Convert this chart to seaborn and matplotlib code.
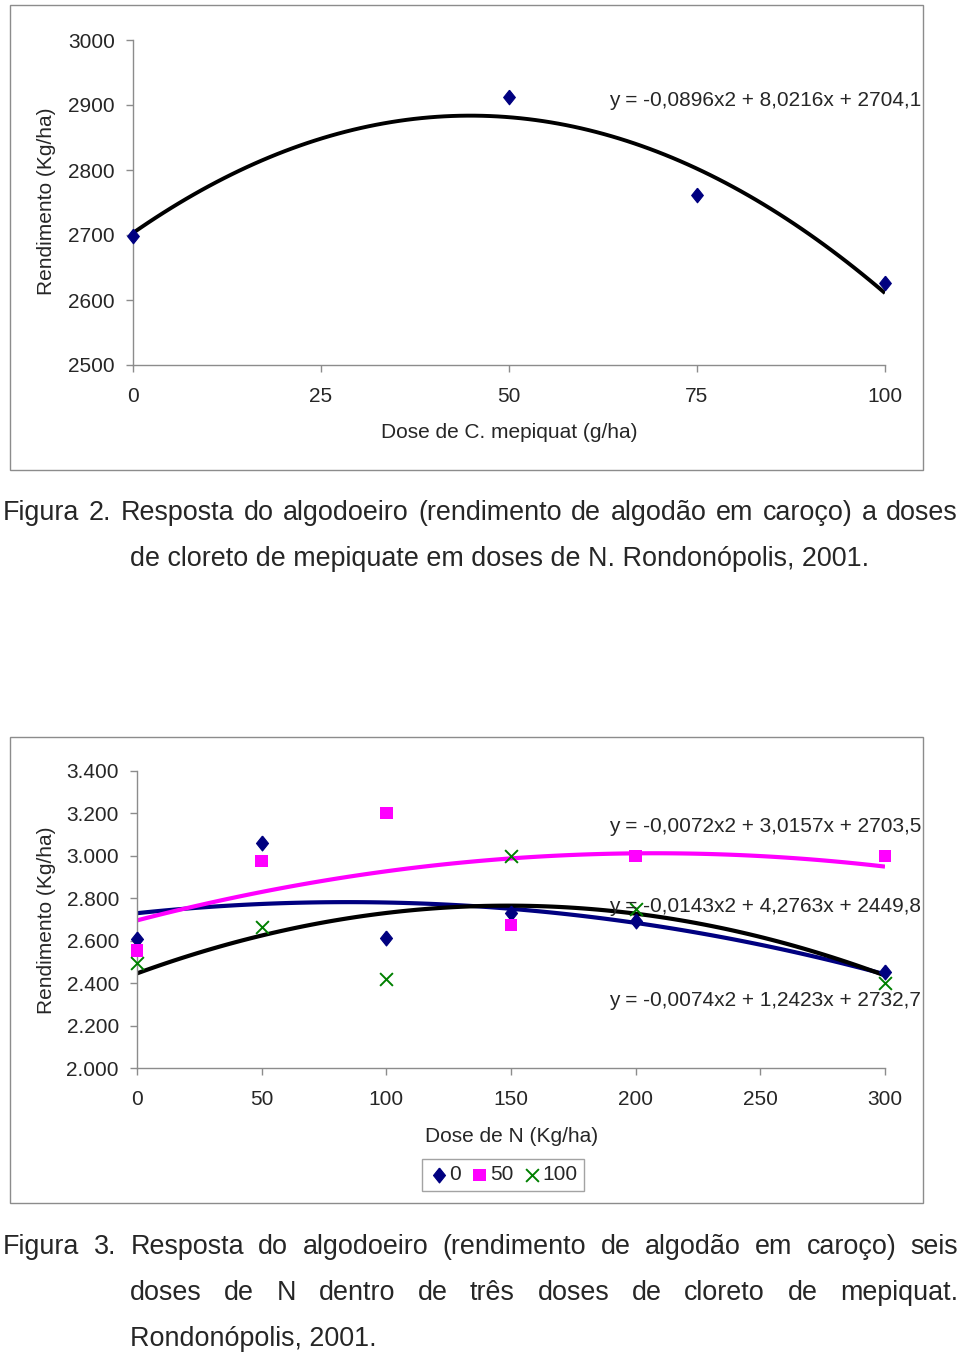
import matplotlib
matplotlib.use("Agg")
import matplotlib.pyplot as plt
import seaborn as sns
import numpy as np
from matplotlib.patches import Rectangle
from matplotlib.ticker import FuncFormatter

# Figura 2 - dose de cloreto de mepiquat
dose_cm = [0, 50, 75, 100]
rend_cm = [2698, 2912, 2761, 2626]
eq_cm = "y = -0,0896x2 + 8,0216x + 2704,1"

# Figura 3 - dose de N dentro de doses de C. mepiquat
dose_n = [0, 50, 100, 150, 200, 300]
rend_0 = [2608, 3061, 2613, 2731, 2693, 2453]
rend_50 = [2552, 2976, 3202, 2674, 2999, 2999]
rend_100 = [2495, 2665, 2420, 2999, 2750, 2401]
series_labels = ["0", "50", "100"]
eqs_n = ["y = -0,0072x2 + 3,0157x + 2703,5",
         "y = -0,0143x2 + 4,2763x + 2449,8",
         "y = -0,0074x2 + 1,2423x + 2732,7"]

W, H = 960, 1354
sns.set_style("white")
plt.rcParams['font.family'] = ['Liberation Sans', 'DejaVu Sans']

NAVY = '#000080'
MAG = '#FF00FF'
GREEN = '#008000'
GRAY = '#8c8c8c'
FS = 15  # texto dos graficos
diamond = [(0, 1), (0.8, 0), (0, -1), (-0.8, 0), (0, 1)]

fig = plt.figure(figsize=(W / 100, H / 100), dpi=100)


def fx(px):
    return px / W


def fy(py):
    return 1 - py / H


def style_axes(ax):
    sns.despine(ax=ax)
    for s in ['left', 'bottom']:
        ax.spines[s].set_color(GRAY)
        ax.spines[s].set_linewidth(1)
    ax.tick_params(axis='both', direction='out', length=5, width=1, color=GRAY,
                   labelsize=FS, left=True, bottom=True)
    ax.tick_params(axis='x', pad=11)
    ax.tick_params(axis='y', pad=8)


# caixas dos graficos
for y0, y1 in [(5, 470), (737, 1203)]:
    fig.add_artist(Rectangle((fx(10), fy(y1)), fx(923) - fx(10), (y1 - y0) / H,
                             transform=fig.transFigure, fill=False,
                             edgecolor=GRAY, lw=1))

# ---- Figura 2 ----
ax1 = fig.add_axes([fx(133), fy(365), fx(885) - fx(133), 325 / H])
sns.regplot(x=dose_cm, y=rend_cm, order=2, ci=None, scatter=False, ax=ax1,
            line_kws={'color': 'black', 'lw': 2.8, 'solid_capstyle': 'butt'})
sns.scatterplot(x=dose_cm, y=rend_cm, marker=diamond, s=110, color=NAVY,
                edgecolor=NAVY, ax=ax1, clip_on=False, zorder=5)
ax1.set_xlim(0, 100)
ax1.set_ylim(2500, 3000)
ax1.set_xticks([0, 25, 50, 75, 100])
ax1.set_yticks(range(2500, 3001, 100))
style_axes(ax1)
fig.text(fx(921), fy(100), eq_cm, ha='right', va='center', fontsize=FS)
fig.text(fx(47), fy(201), "Rendimento (Kg/ha)", rotation=90, ha='center',
         va='center', fontsize=FS)
fig.text(fx(509), fy(432), "Dose de C. mepiquat (g/ha)", ha='center',
         va='center', fontsize=FS)

# ---- Figura 3 ----
ax2 = fig.add_axes([fx(137), fy(1068), fx(885) - fx(137), 297 / H])
for vals, col in [(rend_0, NAVY), (rend_50, MAG), (rend_100, 'black')]:
    sns.regplot(x=dose_n, y=vals, order=2, ci=None, scatter=False, ax=ax2,
                line_kws={'color': col, 'lw': 3, 'solid_capstyle': 'butt'})
sns.scatterplot(x=dose_n, y=rend_0, marker=diamond, s=115, color=NAVY,
                edgecolor=NAVY, ax=ax2, clip_on=False, zorder=5,
                label=series_labels[0])
sns.scatterplot(x=dose_n, y=rend_50, marker='s', s=85, color=MAG,
                edgecolor='none', ax=ax2, clip_on=False, zorder=5,
                label=series_labels[1])
sns.scatterplot(x=dose_n, y=rend_100, marker='x', s=85, color=GREEN,
                linewidth=1.4, ax=ax2, clip_on=False, zorder=5,
                label=series_labels[2])
ax2.set_xlim(0, 300)
ax2.set_ylim(2000, 3400)
ax2.set_xticks(range(0, 301, 50))
ax2.set_yticks(range(2000, 3401, 200))
ax2.yaxis.set_major_formatter(FuncFormatter(lambda v, p: f"{v:,.0f}".replace(',', '.')))
style_axes(ax2)
for eq, py in zip(eqs_n, [826, 907, 1001]):
    fig.text(fx(921), fy(py), eq, ha='right', va='center', fontsize=FS)
fig.text(fx(47), fy(920), "Rendimento (Kg/ha)", rotation=90, ha='center',
         va='center', fontsize=FS)
fig.text(fx(512), fy(1136), "Dose de N (Kg/ha)", ha='center', va='center',
         fontsize=FS)
leg = ax2.legend(loc='center', bbox_to_anchor=(fx(503), fy(1175)),
                 bbox_transform=fig.transFigure, ncol=3, fontsize=FS,
                 frameon=True, fancybox=False, edgecolor=GRAY,
                 handletextpad=0.0, columnspacing=0.4, borderpad=0.3,
                 handlelength=1.0, borderaxespad=0)
leg.get_frame().set_linewidth(1)

# ---- legendas das figuras (texto justificado) ----
renderer = fig.canvas.get_renderer()
CAP = 19.4


def justify(words, x0, x1, base):
    texts = [fig.text(0, 0, w, fontsize=CAP, va='baseline') for w in words]
    widths = [t.get_window_extent(renderer).width for t in texts]
    gap = (x1 - x0 - sum(widths)) / (len(words) - 1)
    x = x0
    for t, w in zip(texts, widths):
        t.set_position((fx(x), fy(base)))
        x += w + gap


def left(text, x0, base):
    fig.text(fx(x0), fy(base), text, fontsize=CAP, va='baseline')


justify("Figura 2. Resposta do algodoeiro (rendimento de algodão em caroço) a doses".split(),
        3, 958, 520)
left("de cloreto de mepiquate em doses de N. Rondonópolis, 2001.", 130, 566)
justify("Figura 3. Resposta do algodoeiro (rendimento de algodão em caroço) seis".split(),
        3, 958, 1254)
justify("doses de N dentro de três doses de cloreto de mepiquat.".split(),
        130, 958, 1300)
left("Rondonópolis, 2001.", 130, 1346)

fig.savefig("out.png", dpi=100)
